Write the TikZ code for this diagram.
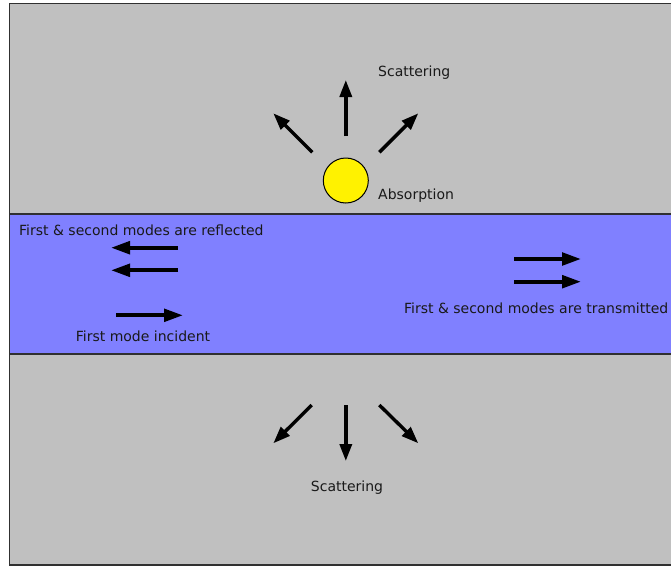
\documentclass[tikz,border=0pt]{standalone}
\usepackage{fontspec}
\setmainfont{DejaVu Sans}
\usetikzlibrary{arrows.meta}
\definecolor{bggray}{HTML}{C0C0C0}
\definecolor{bandblue}{HTML}{8080FF}
\definecolor{edge}{HTML}{303030}
\begin{document}
\begin{tikzpicture}[x=1pt,y=-1pt,
  lbl/.style={inner sep=0pt,text=black!90,font=\fontsize{14}{16}\selectfont},
  arr/.style={line width=3.4pt,-{Triangle[length=17pt,width=12pt]}},
  harr/.style={line width=3.8pt,-{Triangle[length=19pt,width=12.5pt]}}]
\useasboundingbox (0,0) rectangle (671,568);
% background
\path[fill=bggray,draw=edge,line width=1.6pt] (9.5,3.5) rectangle (680,565);
% waveguide band
\path[fill=bandblue,draw=edge,line width=1.2pt] (9.5,214) rectangle (680,354);
% absorber
\node[circle,draw=black,fill=yellow,line width=1pt,minimum size=45pt,inner sep=0pt] (abs) at (345.8,180.5) {};
% labels
\node[lbl,anchor=west] (scatTop) at (378,72.5) {Scattering};
\node[lbl,anchor=west] (absLbl) at (378,196) {Absorption};
\node[lbl,anchor=west] (refl) at (19,230) {First \& second modes are reflected};
\node[lbl] (inc) at (143,336) {First mode incident};
\node[lbl,anchor=east] (trans) at (668.5,308) {First \& second modes are transmitted};
\node[lbl] (scatBot) at (347,488) {Scattering};
% scattering arrows (top)
\coordinate (tL0) at (312.3,152.3); \coordinate (tL1) at (273.3,113.3);
\coordinate (tC0) at (345.8,136);   \coordinate (tC1) at (345.8,80);
\coordinate (tR0) at (379.3,152.3); \coordinate (tR1) at (418.3,113.3);
\draw[arr] (tL0) -- (tL1);
\draw[arr] (tC0) -- (tC1);
\draw[arr] (tR0) -- (tR1);
% scattering arrows (bottom)
\coordinate (bL0) at (311.7,405); \coordinate (bL1) at (273.3,443.3);
\coordinate (bC0) at (345.8,405); \coordinate (bC1) at (345.8,461);
\coordinate (bR0) at (379.3,405); \coordinate (bR1) at (418.3,443.3);
\draw[arr] (bL0) -- (bL1);
\draw[arr] (bC0) -- (bC1);
\draw[arr] (bR0) -- (bR1);
% reflected
\coordinate (r1a) at (178,247.7); \coordinate (r1b) at (111,247.7);
\coordinate (r2a) at (178,270.3); \coordinate (r2b) at (111,270.3);
\draw[harr] (r1a) -- (r1b);
\draw[harr] (r2a) -- (r2b);
% incident
\coordinate (ia) at (116,315.3); \coordinate (ib) at (183,315.3);
\draw[harr] (ia) -- (ib);
% transmitted
\coordinate (t1a) at (514,259); \coordinate (t1b) at (581,259);
\coordinate (t2a) at (514,281.7); \coordinate (t2b) at (581,281.7);
\draw[harr] (t1a) -- (t1b);
\draw[harr] (t2a) -- (t2b);
\end{tikzpicture}
\end{document}
